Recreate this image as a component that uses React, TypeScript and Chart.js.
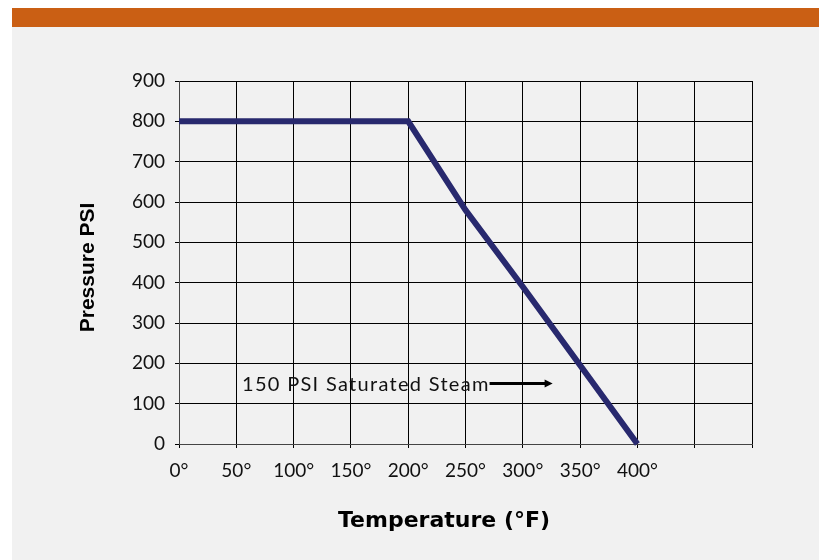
import React, { useEffect, useRef } from "react";
import { Chart, registerables } from "chart.js";

Chart.register(...registerables);

// ---- data ----
const temperatures = [0, 200, 250, 300, 350, 400];
const pressures = [800, 800, 580, 390, 195, 0];
const xTickMax = 400; // last labelled temperature
const xMin = 0;
const xMax = 500;
const xStep = 50;
const yMin = 0;
const yMax = 900;
const yStep = 100;
const xTitle = "Temperature (°F)";
const yTitle = "Pressure PSI";
const noteText = "150 PSI Saturated Steam";
const noteStartTemp = [55];
const notePressure = [150];
const arrowTemps = [271, 326];

const TICK_FONT = "Lato";

const notePlugin = {
  id: "note",
  afterDatasetsDraw(chart: any) {
    const { ctx, scales, chartArea } = chart;
    const xs = scales.x;
    const ys = scales.y;
    const y = ys.getPixelForValue(notePressure[0]);
    const fs = 20;
    ctx.save();
    ctx.fillStyle = "#111";
    ctx.font = `${fs}px ${TICK_FONT}`;
    try {
      (ctx as any).letterSpacing = "1.3px";
    } catch (e) {}
    ctx.textBaseline = "alphabetic";
    ctx.textAlign = "left";
    ctx.fillText(noteText, xs.getPixelForValue(noteStartTemp[0]), y + fs * 0.36);
    try {
      (ctx as any).letterSpacing = "0px";
    } catch (e) {}
    const x1 = xs.getPixelForValue(arrowTemps[0]);
    const x2 = xs.getPixelForValue(arrowTemps[1]);
    ctx.strokeStyle = "#000";
    ctx.lineWidth = 3;
    ctx.beginPath();
    ctx.moveTo(x1, y);
    ctx.lineTo(x2 - 6, y);
    ctx.stroke();
    ctx.fillStyle = "#000";
    ctx.beginPath();
    ctx.moveTo(x2, y);
    ctx.lineTo(x2 - 8, y - 4);
    ctx.lineTo(x2 - 8, y + 4);
    ctx.closePath();
    ctx.fill();

    // axis titles
    ctx.fillStyle = "#000";
    ctx.textAlign = "center";
    ctx.textBaseline = "middle";
    ctx.font = `bold 22px "DejaVu Sans"`;
    ctx.fillText(xTitle, chartArea.left + 265, 494);
    ctx.save();
    ctx.translate(76, (chartArea.top + chartArea.bottom) / 2 + 5);
    ctx.rotate(-Math.PI / 2);
    ctx.font = `bold 21px "Liberation Sans"`;
    ctx.fillText(yTitle, 0, 0);
    ctx.restore();
    ctx.restore();
  },
};

export default function App() {
  const ref = useRef<HTMLCanvasElement>(null);
  useEffect(() => {
    if (!ref.current) return;
    const chart = new Chart(ref.current, {
      type: "line",
      data: {
        datasets: [
          {
            data: temperatures.map((t, i) => ({ x: t, y: pressures[i] })),
            borderColor: "#28296e",
            borderWidth: 6,
            pointRadius: 0,
            borderJoinStyle: "miter",
            borderCapStyle: "butt",
            tension: 0,
            fill: false,
            clip: false as any,
          },
        ],
      },
      options: {
        responsive: false,
        animation: false,
        events: [],
        layout: { padding: { left: 64, top: 54, right: 67, bottom: 27 } },
        plugins: { legend: { display: false }, tooltip: { enabled: false } },
        scales: {
          x: {
            type: "linear",
            min: xMin,
            max: xMax,
            afterFit(s: any) {
              s.height = 89;
            },
            ticks: {
              stepSize: xStep,
              autoSkip: false,
              maxRotation: 0,
              padding: 11,
              color: "#111",
              font: { family: TICK_FONT, size: 19 },
              callback: (v: any) => (Number(v) <= xTickMax ? `${v}°` : ""),
            },
            grid: { color: "#000", lineWidth: 1, tickLength: 4, drawTicks: true },
            border: { display: true, color: "#444", width: 1 },
            title: { display: false },
          },
          y: {
            min: yMin,
            max: yMax,
            afterFit(s: any) {
              s.width = 103;
            },
            ticks: {
              stepSize: yStep,
              padding: 10,
              color: "#111",
              font: { family: TICK_FONT, size: 19 },
            },
            grid: { color: "#000", lineWidth: 1, tickLength: 4 },
            border: { display: true, color: "#444", width: 1 },
            title: { display: false },
          },
        },
      },
      plugins: [notePlugin],
    } as any);
    return () => chart.destroy();
  }, []);

  return (
    <div
      style={{
        position: "absolute",
        left: 12,
        top: 8,
        width: 807,
        height: 552,
        background: "#f1f1f1",
      }}
    >
      <div style={{ height: 19, background: "#ca5f14" }} />
      <canvas
        ref={ref}
        width={807}
        height={533}
        style={{ position: "absolute", left: 0, top: 19, width: 807, height: 533 }}
      />
    </div>
  );
}
